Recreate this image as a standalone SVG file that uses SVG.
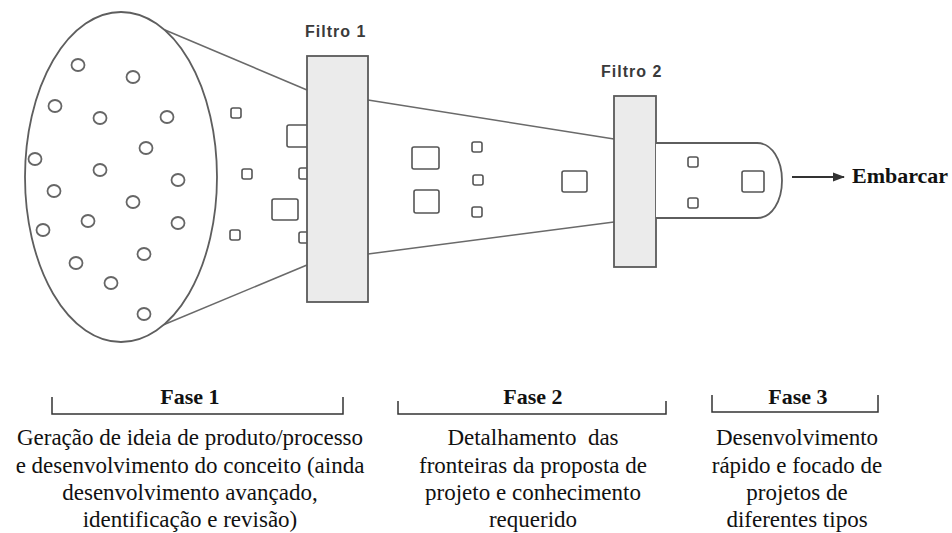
<svg xmlns="http://www.w3.org/2000/svg" width="952" height="533" viewBox="0 0 952 533">
<defs>
<style>
.shape{fill:#fff;stroke:#5e5e5e;stroke-width:1.8}
.filter{fill:#ebebeb;stroke:#5a5a5a;stroke-width:1.8}
.dot{fill:none;stroke:#666;stroke-width:1.8}
.sq{fill:#fff;stroke:#555;stroke-width:1.6}
.edge{fill:none;stroke:#6a6a6a;stroke-width:1.6}
.flabel{font-family:"Liberation Sans",Arial,sans-serif;font-size:16px;font-weight:bold;fill:#3a3a3a;letter-spacing:1px}
.phase{font-family:"Liberation Serif","Times New Roman",serif;font-size:22px;font-weight:bold;fill:#111;text-anchor:middle}
.body{font-family:"Liberation Serif","Times New Roman",serif;font-size:23px;fill:#111;text-anchor:middle}
.bracket{fill:none;stroke:#333;stroke-width:1.5}
</style>
<marker id="ah" viewBox="0 0 12 10" refX="11" refY="5" markerWidth="12" markerHeight="10" markerUnits="userSpaceOnUse" orient="auto">
<path d="M0,0.5 L12,5 L0,9.5 Z" fill="#333"/>
</marker>
</defs>
<rect width="952" height="533" fill="#fff"/>

<g id="connectors">
<line class="edge" x1="165" y1="30" x2="307" y2="90"/>
<line class="edge" x1="163" y1="325" x2="307" y2="265"/>
<line class="edge" x1="368" y1="100" x2="614" y2="139"/>
<line class="edge" x1="368" y1="254" x2="614" y2="222"/>
<line x1="792" y1="177" x2="844" y2="177" stroke="#333" stroke-width="2" marker-end="url(#ah)"/>
</g>

<g id="fase1-ideas">
<ellipse class="shape" cx="121" cy="177" rx="96" ry="165"/>
<g class="dots">
<ellipse class="dot" cx="78" cy="65" rx="6.5" ry="6"/>
<ellipse class="dot" cx="133" cy="77" rx="6.5" ry="6"/>
<ellipse class="dot" cx="55" cy="106" rx="6.5" ry="6"/>
<ellipse class="dot" cx="100" cy="118" rx="6.5" ry="6"/>
<ellipse class="dot" cx="167" cy="117" rx="6.5" ry="6"/>
<ellipse class="dot" cx="146" cy="148" rx="6.5" ry="6"/>
<ellipse class="dot" cx="35" cy="159" rx="6.5" ry="6"/>
<ellipse class="dot" cx="100" cy="170" rx="6.5" ry="6"/>
<ellipse class="dot" cx="178" cy="180" rx="6.5" ry="6"/>
<ellipse class="dot" cx="54" cy="191" rx="6.5" ry="6"/>
<ellipse class="dot" cx="133" cy="202" rx="6.5" ry="6"/>
<ellipse class="dot" cx="88" cy="221" rx="6.5" ry="6"/>
<ellipse class="dot" cx="178" cy="223" rx="6.5" ry="6"/>
<ellipse class="dot" cx="43" cy="230" rx="6.5" ry="6"/>
<ellipse class="dot" cx="144" cy="254" rx="6.5" ry="6"/>
<ellipse class="dot" cx="76" cy="263" rx="6.5" ry="6"/>
<ellipse class="dot" cx="111" cy="283" rx="6.5" ry="6"/>
<ellipse class="dot" cx="144" cy="314" rx="6.5" ry="6"/>
</g>
<rect class="sq" x="231" y="108" width="10" height="10" rx="2"/>
<rect class="sq" x="242" y="169" width="10" height="10" rx="2"/>
<rect class="sq" x="230" y="230" width="10" height="10" rx="2"/>
<rect class="sq" x="287" y="125" width="24" height="22" rx="2"/>
<rect class="sq" x="272" y="199" width="26" height="21" rx="2"/>
<rect class="sq" x="299" y="168" width="12" height="11" rx="2"/>
<rect class="sq" x="299" y="232" width="12" height="11" rx="2"/>
</g>

<g id="filtro1">
<rect class="filter" x="307" y="56" width="61" height="246"/>
<text class="flabel" x="305" y="37">Filtro 1</text>
</g>

<g id="fase2-items">
<rect class="sq" x="412" y="147" width="27" height="22" rx="2"/>
<rect class="sq" x="414" y="190" width="25" height="23" rx="2"/>
<rect class="sq" x="472" y="142" width="10" height="10" rx="2"/>
<rect class="sq" x="473" y="175" width="10" height="10" rx="2"/>
<rect class="sq" x="472" y="207" width="10" height="10" rx="2"/>
<rect class="sq" x="562" y="171" width="25" height="21" rx="2"/>
</g>

<g id="filtro2">
<rect class="filter" x="614" y="96" width="42" height="171"/>
<text class="flabel" x="601" y="77">Filtro 2</text>
</g>

<g id="fase3-items">
<path class="shape" d="M656,143 H757 C772,143 782,160 782,180.5 C782,201 772,218 757,218 H656"/>
<rect class="sq" x="688" y="157" width="10" height="10" rx="2"/>
<rect class="sq" x="688" y="198" width="10" height="10" rx="2"/>
<rect class="sq" x="742" y="171" width="22" height="21" rx="2"/>
</g>

<g id="embarcar">
<text x="852" y="183" font-family="'Liberation Serif','Times New Roman',serif" font-size="22" font-weight="bold" fill="#111">Embarcar</text>
</g>

<g id="fase1-label">
<path class="bracket" d="M52,397 V414 H343 V397"/>
<text class="phase" x="190" y="404">Fase 1</text>
<text class="body" x="190" y="445">Geração de ideia de produto/processo</text>
<text class="body" x="190" y="472.5">e desenvolvimento do conceito (ainda</text>
<text class="body" x="190" y="500">desenvolvimento avançado,</text>
<text class="body" x="190" y="527">identificação e revisão)</text>
</g>

<g id="fase2-label">
<path class="bracket" d="M398,401 V414 H666 V401"/>
<text class="phase" x="533" y="404">Fase 2</text>
<text class="body" x="533" y="445" xml:space="preserve">Detalhamento  das</text>
<text class="body" x="533" y="472.5">fronteiras da proposta de</text>
<text class="body" x="533" y="500">projeto e conhecimento</text>
<text class="body" x="533" y="527">requerido</text>
</g>

<g id="fase3-label">
<path class="bracket" d="M712,395 V412 H878 V395"/>
<text class="phase" x="798" y="404">Fase 3</text>
<text class="body" x="797" y="445">Desenvolvimento</text>
<text class="body" x="797" y="472.5">rápido e focado de</text>
<text class="body" x="797" y="500">projetos de</text>
<text class="body" x="797" y="527">diferentes tipos</text>
</g>
</svg>
